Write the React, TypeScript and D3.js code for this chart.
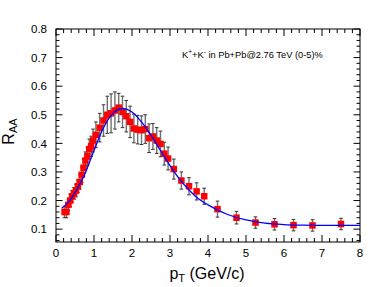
import React from "react";
import * as d3 from "d3";

const pt = [0.225, 0.275, 0.325, 0.375, 0.425, 0.475, 0.525, 0.575, 0.625, 0.675, 0.725, 0.775, 0.825, 0.875, 0.925, 0.975,
  1.05, 1.15, 1.25, 1.35, 1.45, 1.55, 1.65, 1.75, 1.85, 1.95,
  2.05, 2.15, 2.25, 2.35, 2.45, 2.55, 2.65, 2.75, 2.85, 2.95,
  3.1, 3.3, 3.5, 3.7, 3.9, 4.25, 4.75, 5.25, 5.75, 6.25, 6.75, 7.5];
const raa = [0.16, 0.16, 0.185, 0.2, 0.215, 0.225, 0.235, 0.25, 0.265, 0.29, 0.315, 0.34, 0.355, 0.38, 0.39, 0.41,
  0.43, 0.455, 0.48, 0.5, 0.505, 0.515, 0.525, 0.51, 0.495, 0.475,
  0.452, 0.448, 0.446, 0.45, 0.418, 0.424, 0.41, 0.398, 0.364, 0.347,
  0.31, 0.27, 0.25, 0.232, 0.215, 0.17, 0.14, 0.123, 0.117, 0.114, 0.113, 0.118];
const err = [0.02, 0.02, 0.02, 0.02, 0.02, 0.02, 0.022, 0.022, 0.025, 0.027, 0.03, 0.03, 0.032, 0.035, 0.035, 0.04,
  0.045, 0.05, 0.055, 0.065, 0.068, 0.065, 0.05, 0.055, 0.055, 0.055,
  0.05, 0.05, 0.05, 0.05, 0.05, 0.045, 0.045, 0.045, 0.04, 0.04,
  0.035, 0.03, 0.03, 0.03, 0.028, 0.028, 0.022, 0.02, 0.02, 0.02, 0.02, 0.02];

const fitX = [0.15, 0.3, 0.5, 0.75, 1.0, 1.25, 1.5, 1.75, 2.0, 2.25, 2.5, 2.75, 3.0, 3.25, 3.5, 3.75, 4.0, 4.5, 5.0, 5.5, 6.0, 6.5, 7.0, 8.0];
const fitY = [0.173, 0.19, 0.228, 0.29, 0.375, 0.455, 0.505, 0.522, 0.51, 0.475, 0.428, 0.375, 0.322, 0.275, 0.237, 0.206, 0.185, 0.152, 0.132, 0.121, 0.116, 0.114, 0.113, 0.113];

const xMajor = [0, 1, 2, 3, 4, 5, 6, 7, 8];
const yMajor = [0.1, 0.2, 0.3, 0.4, 0.5, 0.6, 0.7, 0.8];

export default function App() {
  const W = 372, H = 287;
  const L = 56, R = 360, T = 29, B = 242;
  const x = d3.scaleLinear().domain([0, 8]).range([L, R]);
  const y = d3.scaleLinear().domain([0.055, 0.8]).range([B, T]);
  const xMinor = d3.range(0, 8.0001, 0.2);
  const yMinor = d3.range(0.06, 0.8001, 0.02);
  const line = d3.line<number>().x((d, i) => x(fitX[i])).y((d, i) => y(fitY[i])).curve(d3.curveMonotoneX);
  const font = "'Liberation Sans', Arial, Helvetica, sans-serif";
  const sq = 6.5;
  return (
    <svg width={W} height={H} style={{ position: "absolute", left: 0, top: 0 }} fontFamily={font}>
      <rect x={0} y={0} width={W} height={H} fill="white" />
      {xMinor.map((v, i) => {
        const isMaj = Math.abs(v - Math.round(v)) < 1e-6;
        const len = isMaj ? 7 : 4;
        return (
          <g key={"xt" + i} stroke="black" strokeWidth={1}>
            <line x1={x(v)} x2={x(v)} y1={B} y2={B - len} />
            <line x1={x(v)} x2={x(v)} y1={T} y2={T + len} />
          </g>
        );
      })}
      {yMinor.map((v, i) => {
        const isMaj = Math.abs(v * 10 - Math.round(v * 10)) < 1e-6;
        const len = isMaj ? 6.5 : 3.5;
        return (
          <g key={"yt" + i} stroke="black" strokeWidth={1}>
            <line x1={L} x2={L + len} y1={y(v)} y2={y(v)} />
            <line x1={R} x2={R - len} y1={y(v)} y2={y(v)} />
          </g>
        );
      })}
      <rect x={L} y={T} width={R - L} height={B - T} fill="none" stroke="black" strokeWidth={1} />
      {xMajor.map((v) => (
        <text key={"xl" + v} x={x(v)} y={257} textAnchor="middle" fontSize={11.5}>{d3.format("d")(v)}</text>
      ))}
      {yMajor.map((v) => (
        <text key={"yl" + v} x={47} y={y(v)} dy="0.36em" textAnchor="end" fontSize={11.5}>{d3.format(".1f")(v)}</text>
      ))}
      {pt.map((p, i) => (
        <g key={"e" + i}>
          <line x1={x(p)} x2={x(p)} y1={y(raa[i] - err[i])} y2={y(raa[i] + err[i])} stroke="#707070" strokeWidth={1.4} />
          <line x1={x(p) - 1.8} x2={x(p) + 1.8} y1={y(raa[i] - err[i])} y2={y(raa[i] - err[i])} stroke="#333" strokeWidth={1} />
          <line x1={x(p) - 1.8} x2={x(p) + 1.8} y1={y(raa[i] + err[i])} y2={y(raa[i] + err[i])} stroke="#333" strokeWidth={1} />
        </g>
      ))}
      {pt.map((p, i) => (
        <rect key={"p" + i} x={x(p) - sq / 2} y={y(raa[i]) - sq / 2} width={sq} height={sq} fill="#ff0000" />
      ))}
      <path d={line(fitY) || ""} fill="none" stroke="#0000ff" strokeWidth={1.3} />
      <text x={182} y={57.5} fontSize={9.3}>
        K<tspan dy={-3.5} fontSize={6.5}>+</tspan><tspan dy={3.5}>+K</tspan><tspan dy={-3.5} fontSize={6.5}>-</tspan><tspan dy={3.5}> in Pb+Pb@2.76 TeV (0-5)%</tspan>
      </text>
      <text x={207} y={279} textAnchor="middle" fontSize={16}>
        p<tspan dy={3} fontSize={11}>T</tspan><tspan dy={-3}> (GeV/c)</tspan>
      </text>
      <text transform={`translate(14,${(T + B) / 2 - 4}) rotate(-90)`} textAnchor="middle" fontSize={16}>
        R<tspan dy={3} fontSize={11}>AA</tspan>
      </text>
    </svg>
  );
}
